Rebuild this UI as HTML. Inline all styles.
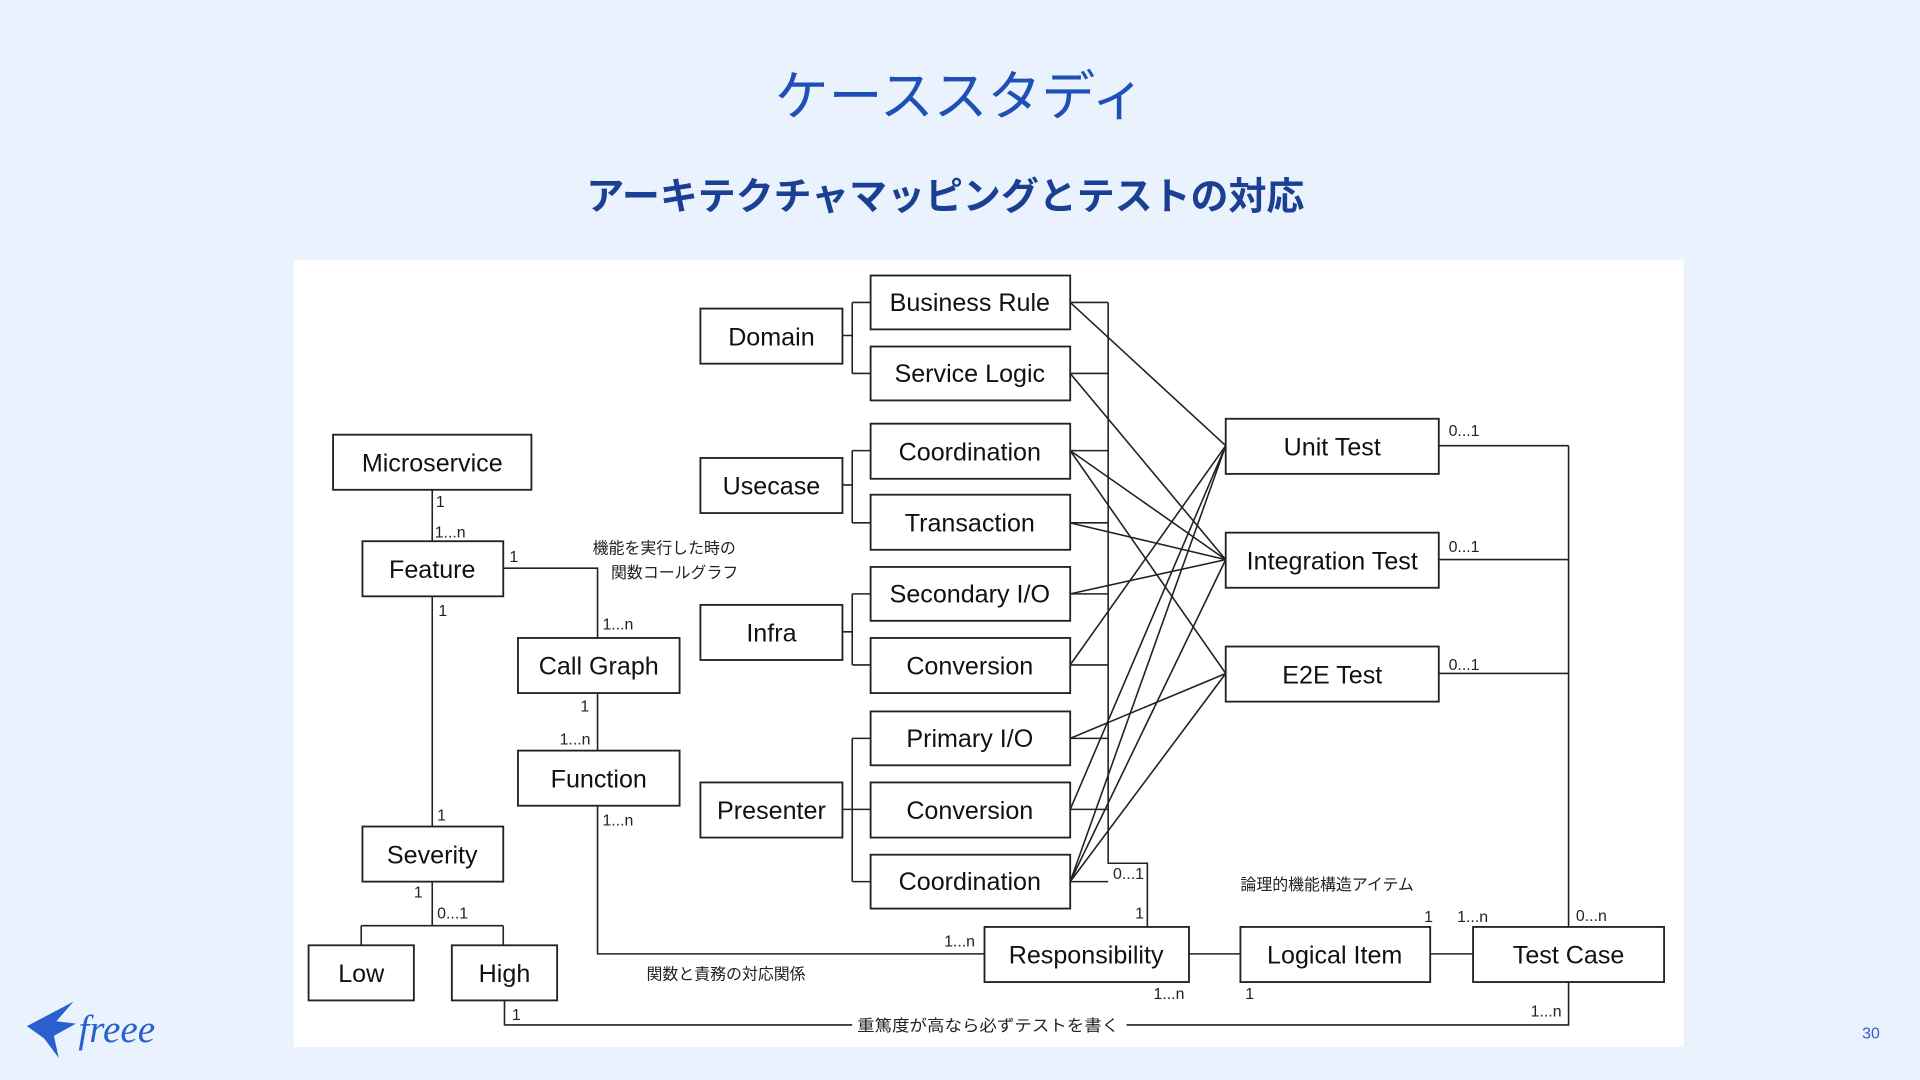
<!DOCTYPE html>
<html><head><meta charset="utf-8"><style>
html,body{margin:0;padding:0;background:#eaf2fd;}
svg{display:block;}
</style></head><body>
<svg width="1920" height="1080" viewBox="0 0 1568 882" xmlns="http://www.w3.org/2000/svg" preserveAspectRatio="none">
<rect width="1568" height="882" fill="#eaf2fd"/>
<text x="784" y="94" text-anchor="middle" font-family="Liberation Sans, Noto Sans CJK JP, sans-serif" font-size="44" fill="#1f50b5">ケーススタディ</text>
<text x="772" y="171" text-anchor="middle" font-family="Liberation Sans, Noto Sans CJK JP, sans-serif" font-size="31" font-weight="bold" fill="#1b3f93">アーキテクチャマッピングとテストの対応</text>
<rect x="240" y="212" width="1135" height="643" fill="#fff"/>
<g fill="none" stroke="#222" stroke-width="1.3">
<path d="M688 274H696M696 247V305M696 247H711M696 305H711"/>
<path d="M688 396H696M696 368V427M696 368H711M696 427H711"/>
<path d="M688 516H696M696 485V543M696 485H711M696 543H711"/>
<path d="M688 661H696M696 603V720M696 603H711M696 661H711M696 720H711"/>
<path d="M874 247H905M874 305H905M874 368H905M874 427H905M874 485H905M874 543H905M874 603H905M874 661H905M874 720H905"/>
<path d="M905 247V705H937V757"/>
<path d="M874 247L1001 364M874 543L1001 364M874 661L1001 364M874 720L1001 364"/>
<path d="M874 305L1001 457M874 368L1001 457M874 427L1001 457M874 485L1001 457M874 720L1001 457"/>
<path d="M874 368L1001 550M874 603L1001 550M874 720L1001 550"/>
<path d="M1175 364H1281M1175 457H1281M1175 550H1281M1281 364V757"/>
<path d="M353 400V442M411 464H488V521M488 566V613M488 658V779H804M353 487V675M353 720V756M295 756H411M295 756V772M411 756V772"/>
<path d="M412 817V837H696M920 837H1281V802"/>
<path d="M971 779H1013M1168 779H1203"/>
</g>
<g fill="#fff" stroke="#222" stroke-width="1.5">
<rect x="572" y="252" width="116" height="45"/>
<rect x="711" y="225" width="163" height="44"/>
<rect x="711" y="283" width="163" height="44"/>
<rect x="572" y="374" width="116" height="45"/>
<rect x="711" y="346" width="163" height="45"/>
<rect x="711" y="404" width="163" height="45"/>
<rect x="572" y="494" width="116" height="45"/>
<rect x="711" y="463" width="163" height="44"/>
<rect x="711" y="521" width="163" height="45"/>
<rect x="572" y="639" width="116" height="45"/>
<rect x="711" y="581" width="163" height="44"/>
<rect x="711" y="639" width="163" height="45"/>
<rect x="711" y="698" width="163" height="44"/>
<rect x="1001" y="342" width="174" height="45"/>
<rect x="1001" y="435" width="174" height="45"/>
<rect x="1001" y="528" width="174" height="45"/>
<rect x="272" y="355" width="162" height="45"/>
<rect x="296" y="442" width="115" height="45"/>
<rect x="423" y="521" width="132" height="45"/>
<rect x="423" y="613" width="132" height="45"/>
<rect x="296" y="675" width="115" height="45"/>
<rect x="252" y="772" width="86" height="45"/>
<rect x="369" y="772" width="86" height="45"/>
<rect x="804" y="757" width="167" height="45"/>
<rect x="1013" y="757" width="155" height="45"/>
<rect x="1203" y="757" width="156" height="45"/>
</g>
<g font-family="Liberation Sans, Noto Sans CJK JP, sans-serif" font-size="20.5" fill="#111" text-anchor="middle">
<text x="630" y="282">Domain</text>
<text x="792" y="254">Business Rule</text>
<text x="792" y="312">Service Logic</text>
<text x="630" y="404">Usecase</text>
<text x="792" y="376">Coordination</text>
<text x="792" y="434">Transaction</text>
<text x="630" y="524">Infra</text>
<text x="792" y="492">Secondary I/O</text>
<text x="792" y="551">Conversion</text>
<text x="630" y="669">Presenter</text>
<text x="792" y="610">Primary I/O</text>
<text x="792" y="669">Conversion</text>
<text x="792" y="727">Coordination</text>
<text x="1088" y="372">Unit Test</text>
<text x="1088" y="465">Integration Test</text>
<text x="1088" y="558">E2E Test</text>
<text x="353" y="385">Microservice</text>
<text x="353" y="472">Feature</text>
<text x="489" y="551">Call Graph</text>
<text x="489" y="643">Function</text>
<text x="353" y="705">Severity</text>
<text x="295" y="802">Low</text>
<text x="412" y="802">High</text>
<text x="887" y="787">Responsibility</text>
<text x="1090" y="787">Logical Item</text>
<text x="1281" y="787">Test Case</text>
</g>
<g font-family="Liberation Sans, Noto Sans CJK JP, sans-serif" font-size="13" fill="#222">
<text x="356" y="414">1</text>
<text x="355" y="439">1...n</text>
<text x="416" y="459">1</text>
<text x="484" y="452">機能を実行した時の</text>
<text x="499" y="472">関数コールグラフ</text>
<text x="492" y="514">1...n</text>
<text x="474" y="581">1</text>
<text x="457" y="608">1...n</text>
<text x="492" y="674">1...n</text>
<text x="358" y="503">1</text>
<text x="357" y="670">1</text>
<text x="338" y="733">1</text>
<text x="357" y="750">0...1</text>
<text x="418" y="833">1</text>
<text x="700" y="842" textLength="214" lengthAdjust="spacingAndGlyphs">重篤度が高なら必ずテストを書く</text>
<text x="1250" y="830">1...n</text>
<text x="528" y="800">関数と責務の対応関係</text>
<text x="771" y="773">1...n</text>
<text x="909" y="718">0...1</text>
<text x="927" y="750">1</text>
<text x="942" y="816">1...n</text>
<text x="1017" y="816">1</text>
<text x="1013" y="727">論理的機能構造アイテム</text>
<text x="1163" y="753">1</text>
<text x="1190" y="753">1...n</text>
<text x="1287" y="752">0...n</text>
<text x="1183" y="356">0...1</text>
<text x="1183" y="451">0...1</text>
<text x="1183" y="547">0...1</text>
</g>
<g fill="#2a5fcf">
<path d="M22 838 L60 818 L46 834 L62 836 L44 846 L48 864 L36 848 Z"/>
</g>
<text x="64" y="851" font-family="Liberation Serif, serif" font-style="italic" font-size="32" fill="#2a5fcf">freee</text>
<text x="1528" y="848" text-anchor="middle" font-family="Liberation Sans, sans-serif" font-size="13" fill="#2a5fcf">30</text>
</svg>
</body></html>
